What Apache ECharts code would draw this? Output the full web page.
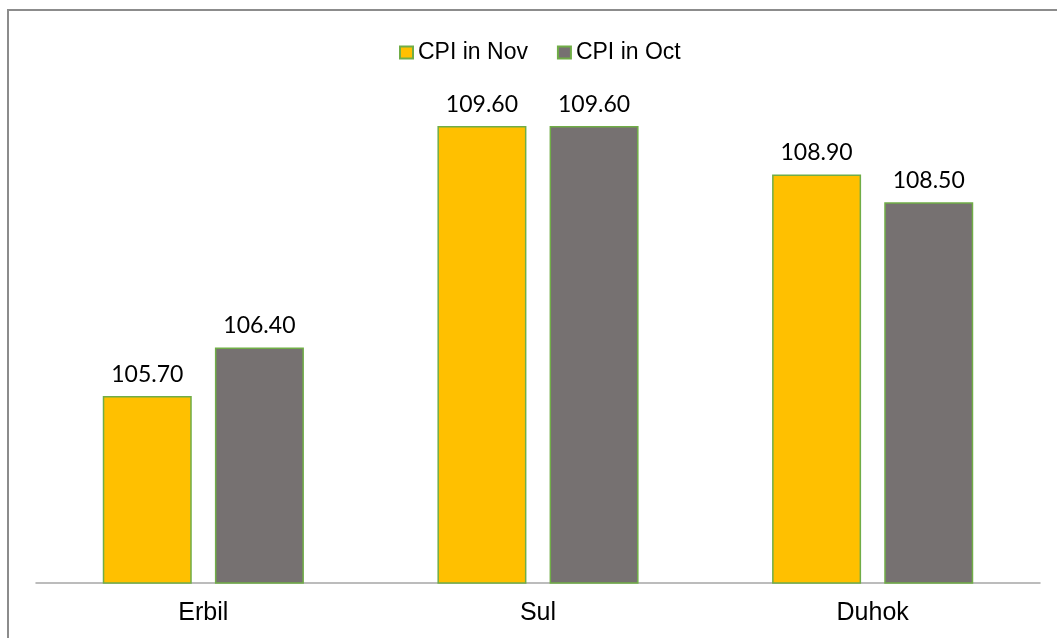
<!DOCTYPE html>
<html>
<head>
<meta charset="utf-8">
<script src="https://cdn.jsdelivr.net/npm/echarts@6/dist/echarts.min.js"></script>
<style>
html,body{margin:0;padding:0;background:#fff;}
#c{width:1057px;height:638px;}
</style>
</head>
<body>
<div id="c"></div>
<script>
const categories = ['Erbil', 'Sul', 'Duhok'];
const seriesNames = ['CPI in Nov', 'CPI in Oct'];
const cpiNov = [105.70, 109.60, 108.90];
const cpiOct = [106.40, 109.60, 108.50];

const chart = echarts.init(document.getElementById('c'), null, {renderer: 'canvas'});
const labelCfg = {
  show: true, position: 'top', distance: 10,
  fontFamily: 'Lato', fontSize: 23, color: '#000',
  formatter: p => p.value.toFixed(2)
};
const mk = (name, data, color) => ({
  name, type: 'bar', data, barWidth: 89, barGap: '26%',
  itemStyle: {color, borderColor: '#70AD47', borderWidth: 1.5},
  label: labelCfg
});
chart.setOption({
  animation: false,
  backgroundColor: '#fff',
  legend: {
    left: 394, top: 36, itemWidth: 13, itemHeight: 12, itemGap: 29,
    icon: 'rect',
    textStyle: {fontFamily: 'Liberation Sans', fontSize: 23, color: '#000'},
    data: seriesNames
  },
  grid: {left: 36, right: 17, top: 29, bottom: 55},
  xAxis: {
    type: 'category', data: categories,
    axisLine: {lineStyle: {color: '#A6A6A6', width: 1.5}},
    axisTick: {show: false},
    axisLabel: {fontFamily: 'Liberation Sans', fontSize: 25, color: '#000', margin: 18}
  },
  yAxis: {
    type: 'value', min: 103, max: 111, interval: 1,
    show: false, splitLine: {show: false}
  },
  graphic: [
    {type: 'polyline', shape: {points: [[8, 638], [8, 10], [1057, 10]]},
     style: {stroke: '#8C8C8C', lineWidth: 2, fill: null}, silent: true}
  ],
  series: [mk(seriesNames[0], cpiNov, '#FFC000'), mk(seriesNames[1], cpiOct, '#767171')]
});
</script>
</body>
</html>
